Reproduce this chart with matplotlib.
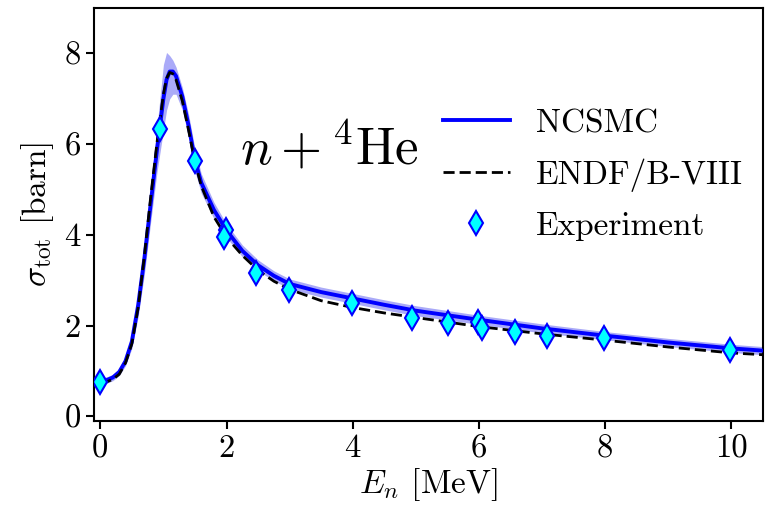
import numpy as np
import matplotlib
matplotlib.use("Agg")
import matplotlib.pyplot as plt

plt.rcParams["font.family"] = "serif"
plt.rcParams["font.serif"] = ["cmr10"]
plt.rcParams["mathtext.fontset"] = "cm"
plt.rcParams["axes.formatter.use_mathtext"] = True

# ---- datos ----
energia = [0.0, 0.1, 0.2, 0.3, 0.4, 0.5, 0.6, 0.7, 0.8, 0.9, 1.0, 1.05, 1.1, 1.15,
           1.2, 1.3, 1.4, 1.5, 1.6, 1.8, 2.0, 2.25, 2.5, 2.75, 3.0, 3.5, 4.0, 4.5,
           5.0, 6.0, 7.0, 8.0, 9.0, 10.0, 10.5]
ncsmc = [0.80, 0.80, 0.86, 0.98, 1.22, 1.65, 2.45, 3.50, 4.70, 5.90, 7.00, 7.42, 7.60, 7.60,
         7.50, 7.05, 6.40, 5.65, 5.15, 4.55, 4.10, 3.65, 3.33, 3.10, 2.92, 2.74, 2.60, 2.46,
         2.33, 2.13, 1.94, 1.78, 1.63, 1.50, 1.45]
ncsmc_hi = [0.87, 0.87, 0.93, 1.06, 1.32, 1.80, 2.70, 3.85, 5.10, 6.40, 7.75, 8.02, 7.95, 7.85,
            7.70, 7.25, 6.65, 5.90, 5.35, 4.72, 4.24, 3.78, 3.45, 3.21, 3.03, 2.85, 2.71, 2.57,
            2.44, 2.23, 2.04, 1.87, 1.72, 1.59, 1.54]
ncsmc_lo = [0.73, 0.73, 0.79, 0.90, 1.12, 1.50, 2.20, 3.15, 4.30, 5.40, 6.30, 6.75, 7.00, 7.10,
            7.10, 6.75, 6.15, 5.40, 4.92, 4.36, 3.94, 3.52, 3.21, 2.99, 2.81, 2.63, 2.49, 2.35,
            2.22, 2.03, 1.84, 1.69, 1.54, 1.41, 1.36]
endf = [0.76, 0.76, 0.82, 0.93, 1.18, 1.60, 2.40, 3.55, 4.85, 6.05, 7.10, 7.45, 7.58, 7.55,
        7.42, 6.95, 6.30, 5.60, 5.08, 4.40, 3.95, 3.55, 3.22, 2.98, 2.80, 2.55, 2.40, 2.28,
        2.18, 1.98, 1.82, 1.68, 1.53, 1.40, 1.36]

exp_e = [0.0, 0.94, 1.50, 1.99, 1.96, 2.47, 2.99, 3.99, 4.94, 5.51, 5.98, 6.05, 6.57, 7.08, 7.98, 9.98]
exp_sigma = [0.77, 6.33, 5.62, 4.11, 3.96, 3.17, 2.78, 2.50, 2.17, 2.05, 2.08, 1.95, 1.85, 1.78, 1.72, 1.46]

xticks = [0, 2, 4, 6, 8, 10]
yticks = [0, 2, 4, 6, 8]

fig = plt.figure(figsize=(7.69, 5.09), dpi=100)
ax = fig.add_axes([0.1222, 0.1729, 0.870, 0.8114])

ax.fill_between(energia, ncsmc_lo, ncsmc_hi, color="#aaaaf8", lw=0)
ax.plot(energia, ncsmc, color="#0000ff", lw=2.8, label="NCSMC", zorder=3)
ax.plot(energia, endf, color="black", lw=2.0, ls=(0, (4.0, 1.8)), label="ENDF/B-VIII", zorder=4)
ax.plot(exp_e, exp_sigma, ls="none", marker="d", ms=12.5, mfc="cyan", mec="#0000ff",
        mew=1.5, label="Experiment", zorder=5)

ax.text(3.63, 5.93, r"$n+{}^4\mathrm{He}$", fontsize=38, ha="center", va="center")

ax.set_xlim(-0.1, 10.5)
ax.set_ylim(-0.1, 9.0)
ax.set_xticks(xticks)
ax.set_xticklabels([str(t) for t in xticks])
ax.set_yticks(yticks)
ax.set_yticklabels([str(t) for t in yticks])
ax.tick_params(labelsize=23.5, width=1.5, length=6, direction="out")
for s in ax.spines.values():
    s.set_linewidth(1.5)

ax.set_xlabel(r"$E_n$ [MeV]", fontsize=24, labelpad=2)
ax.set_ylabel(r"$\sigma_{\rm tot}$ [barn]", fontsize=24, labelpad=6)

ax.legend(loc="upper left", bbox_to_anchor=(0.5215, 0.756), frameon=False, fontsize=24,
          borderpad=0, borderaxespad=0, handlelength=2.0, handletextpad=0.8, labelspacing=0.6)

fig.savefig("out.png", dpi=100)
